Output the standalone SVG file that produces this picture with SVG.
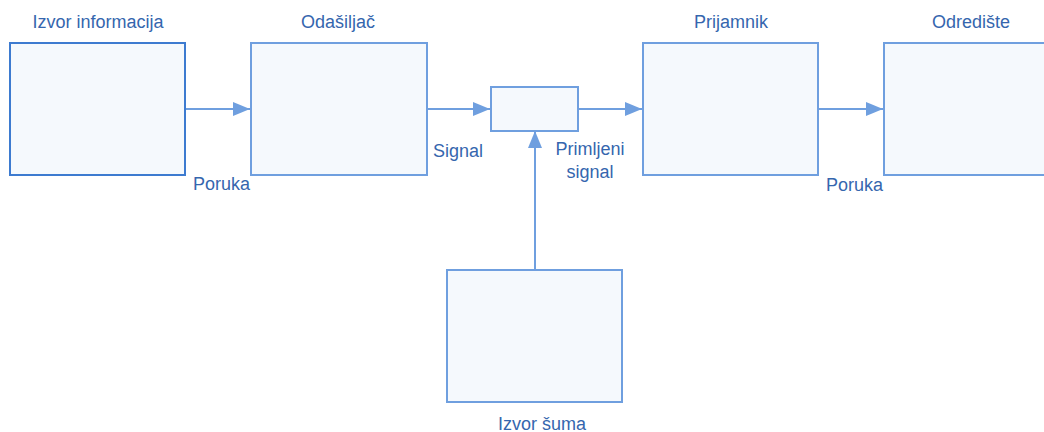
<svg xmlns="http://www.w3.org/2000/svg" width="1044" height="432" viewBox="0 0 1044 432">
<style>
.box{fill:#f5f9fd;stroke:#6f9fdf;stroke-width:2}
.box1{fill:#f5f9fd;stroke:#3d7bd0;stroke-width:2}
.t{font-family:"Liberation Sans",Arial,sans-serif;font-size:18px;fill:#3566ae}
.c{stroke:#6f9fdf;stroke-width:2;fill:none}
</style>
<defs>
<marker id="ah" markerWidth="17" markerHeight="14" refX="17" refY="7" orient="auto" markerUnits="userSpaceOnUse">
<path d="M0,0 L17,7 L0,14 Z" fill="#6f9fdf"/>
</marker>
</defs>
<rect width="1044" height="432" fill="#ffffff"/>
<g id="connectors">
<line class="c" x1="186" y1="109" x2="250" y2="109" marker-end="url(#ah)"/>
<line class="c" x1="427" y1="109" x2="490" y2="109" marker-end="url(#ah)"/>
<line class="c" x1="578" y1="109" x2="642" y2="109" marker-end="url(#ah)"/>
<line class="c" x1="818" y1="109" x2="883" y2="109" marker-end="url(#ah)"/>
<line class="c" x1="535" y1="270" x2="535" y2="131" marker-end="url(#ah)"/>
</g>
<g id="izvor-informacija">
<rect class="box1" x="10" y="43" width="175" height="132"/>
<text class="t" x="98" y="28" text-anchor="middle">Izvor informacija</text>
</g>
<g id="odasiljac">
<rect class="box" x="251" y="43" width="176" height="132"/>
<text class="t" x="338" y="28" text-anchor="middle">Odašiljač</text>
</g>
<g id="kanal">
<rect class="box" x="491" y="87" width="87" height="44"/>
</g>
<g id="prijamnik">
<rect class="box" x="643" y="43" width="175" height="132"/>
<text class="t" x="731" y="28" text-anchor="middle">Prijamnik</text>
</g>
<g id="odrediste">
<rect class="box" x="884" y="43" width="175" height="132"/>
<text class="t" x="971" y="28" text-anchor="middle">Odredište</text>
</g>
<g id="izvor-suma">
<rect class="box" x="447" y="270" width="175" height="132"/>
<text class="t" x="542" y="430" text-anchor="middle">Izvor šuma</text>
</g>
<g id="labels">
<text class="t" x="193" y="190">Poruka</text>
<text class="t" x="433" y="157">Signal</text>
<text class="t" x="590" y="155" text-anchor="middle">Primljeni</text>
<text class="t" x="590" y="178" text-anchor="middle">signal</text>
<text class="t" x="826" y="191">Poruka</text>
</g>
</svg>
